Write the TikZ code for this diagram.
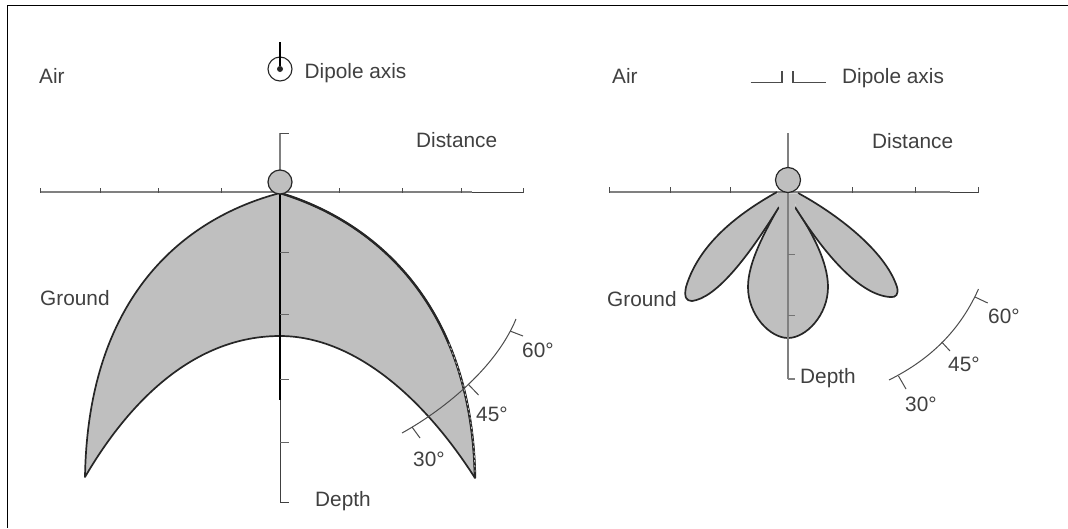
\documentclass[tikz,border=0pt]{standalone}
\usepackage{fontspec}
\setmainfont{Liberation Sans}
\definecolor{lobe}{gray}{0.75}
\definecolor{txt}{gray}{0.25}
\definecolor{axisc}{gray}{0.5}
\tikzset{
  x=1pt,y=-1pt,
  lbl/.style={font=\fontsize{20.8}{24}\selectfont,text=txt,inner sep=0pt,anchor=base west},
  ax/.style={draw=axisc,line width=1.7pt},
  thinax/.style={draw=black!75,line width=0.8pt},
  tick/.style={draw=black!70,line width=1pt},
  lobeshape/.style={fill=lobe,draw=black!85,line width=1.7pt,line join=round},
  frame/.style={draw=black,line width=1pt},
  angarc/.style={draw=black!70,line width=1pt},
}
\begin{document}
\begin{tikzpicture}
\useasboundingbox (0,0) rectangle (1068,528);
\fill[white] (0,0) rectangle (1068,528);
% frame
\draw[frame] (1068,5) -- (7.5,5) -- (7.5,528);
% LEFT
\coordinate (Ltop) at (280,133);
\coordinate (Lapex) at (280,193);
\coordinate (Lbot) at (280,502);
\draw[ax] (40,192) -- (472,192);
\draw[thinax] (472,192.5) -- (523,192.5);
\foreach \x in {40,100,158,221,339,402,461,523}{\draw[tick] (\x,188) -- (\x,193);}
\draw[ax] (Ltop) -- (Lapex);
\draw[tick] (Ltop) -- ++(9,0);
\path[lobeshape] (Lapex)
  .. controls (185,218) and (88,295) .. (85,477)
  .. controls (130,400) and (195,336) .. (280,336)
  .. controls (350,336) and (420,392) .. (475,478)
  .. controls (472,300) and (370,220) .. (Lapex) -- cycle;
\draw[black!85,line width=2.4pt] (475,478) .. controls (472,300) and (370,220) .. (Lapex);
\draw[lobe,line width=0.8pt,dash pattern=on 2.2pt off 2.6pt] (475,472) .. controls (474.1,424.6) and (464.3,380) .. (448.6,343);
\draw[draw=black,line width=1.1pt] (Lapex) -- (280,400);
\draw[thinax] (280,400) -- (Lbot) -- ++(9,0);
\foreach \y in {252,314,379,442}{\draw[draw=black!60,line width=0.9pt] (280,\y) -- ++(9,0);}
\node[circle,draw=black!85,fill=lobe,line width=1.2pt,minimum size=24pt,inner sep=0pt] (Lsrc) at (280,182) {};
% left dipole symbol
\node[circle,draw=black!85,line width=1.1pt,minimum size=24pt,inner sep=0pt] (Ldip) at (280,69) {};
\node[circle,fill=black!85,minimum size=6pt,inner sep=0pt] (Ldot) at (280,69) {};
\coordinate (Lstem) at (280,42);
\draw[black,line width=1.1pt] (Lstem) -- (Ldot);
\node[lbl] (a1) at (39,83) {Air};
\node[lbl] (d1) at (304.5,78) {Dipole axis};
\node[lbl] (di1) at (416,147) {Distance};
\node[lbl] (g1) at (40,305) {Ground};
\node[lbl] (de1) at (315,506) {Depth};
\node[lbl] (s30a) at (413,466) {30°};
\node[lbl] (s45a) at (476,421) {45°};
\node[lbl] (s60a) at (522,357) {60°};
% left angle arc
\coordinate (La) at (402,433);
\coordinate (Lb) at (516,319);
\draw[angarc] (La) .. controls (440,412) and (495,370) .. (Lb);
\draw[angarc] (412,427) -- (420,438) (468,384) -- (478.5,395) (510,331) -- (523,336);
% RIGHT
\coordinate (Rtop) at (788,133);
\coordinate (Rapex) at (788,190);
\coordinate (Rbot) at (788,379);
\draw[ax] (609,192) -- (950,192);
\draw[thinax] (950,192.5) -- (978.5,192.5);
\foreach \x in {609,670,730,852,915,978.5}{\draw[tick] (\x,187) -- (\x,193);}
\draw[ax] (Rtop) -- (Rapex);
\path[lobeshape] (778,208)
  .. controls (765,232) and (748,262) .. (748,287)
  .. controls (748,315) and (770,338) .. (788,338)
  .. controls (806,338) and (828,315) .. (828,287)
  .. controls (828,262) and (812,232) .. (795,207);
\path[lobeshape] (777,192)
  .. controls (745,210) and (700,240) .. (686,287)
  .. controls (684,297) and (686,301) .. (692,301)
  .. controls (715,298) and (745,262) .. (779,207);
\path[lobeshape] (798,193)
  .. controls (835,213) and (885,250) .. (897,287)
  .. controls (899,294) and (896,298) .. (890,297)
  .. controls (860,295) and (825,255) .. (795,207);
\fill[lobe] (775,195.5) -- (778.5,193) -- (797.5,193.5) -- (800.5,196.5) -- (795.5,204) -- (794.5,210) -- (780,210) -- (778,204) -- cycle;
\draw[draw=axisc,line width=1.9pt] (Rapex) -- (Rbot);
\draw[draw=axisc,line width=1.2pt] (Rbot) -- ++(7,0);
\foreach \y in {254,315}{\draw[draw=black!55,line width=1pt] (788,\y) -- ++(7,0);}
\node[circle,draw=black!85,fill=lobe,line width=1.2pt,minimum size=25pt,inner sep=0pt] (Rsrc) at (788,180) {};
\coordinate (w1) at (750.5,82.5);\coordinate (w2) at (782,82.5);\coordinate (w3) at (782,71);
\coordinate (w4) at (793,71);\coordinate (w5) at (793,82.5);\coordinate (w6) at (826,82.5);
\draw[draw=black!70,line width=1.2pt] (w1) -- (w2) -- (w3) (w4) -- (w5) -- (w6);
\node[lbl] (a2) at (612,83) {Air};
\node[lbl] (d2) at (842,83) {Dipole axis};
\node[lbl] (di2) at (872,148) {Distance};
\node[lbl] (g2) at (607,306) {Ground};
\node[lbl] (de2) at (800,383) {Depth};
\node[lbl] (s30b) at (905,411) {30°};
\node[lbl] (s45b) at (948,371) {45°};
\node[lbl] (s60b) at (988,323) {60°};
\coordinate (Ra) at (889,380);
\coordinate (Rb) at (978.5,289);
\draw[angarc] (Ra) .. controls (925,362) and (958,335) .. (Rb);
\draw[angarc] (898.5,376) -- (906,389) (941.7,342) -- (950,351) (975,297) -- (987.7,303);
\end{tikzpicture}
\end{document}
